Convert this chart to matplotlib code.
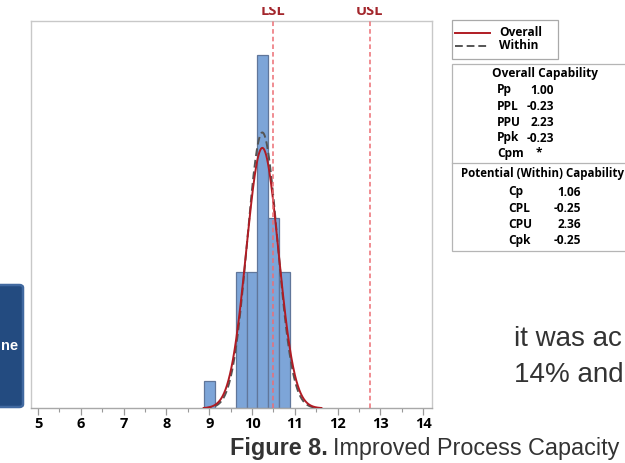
import matplotlib.pyplot as plt
import numpy as np
from matplotlib.lines import Line2D
from matplotlib.patches import Rectangle, FancyBboxPatch

W, H = 625, 463

# histogram data
bin_edges = [8.875, 9.125, 9.375, 9.625, 9.875, 10.125, 10.375, 10.625, 10.875]
counts = [1, 0, 0, 5, 5, 13, 7, 5]
n_obs = 36

# spec limits and fitted normals
lsl, usl = 10.5, 12.75
mean = 10.24
sigma_overall = 0.375
sigma_within = 0.354
curve_lo, curve_hi = 8.87, 11.62

xticks = [5, 6, 7, 8, 9, 10, 11, 12, 13, 14]

overall_labels = ['Pp', 'PPL', 'PPU', 'Ppk', 'Cpm']
overall_values = ['1.00', '-0.23', '2.23', '-0.23', '*']
within_labels = ['Cp', 'CPL', 'CPU', 'Cpk']
within_values = ['1.06', '-0.25', '2.36', '-0.25']

BLUE = '#7da5d8'
EDGE = '#60769a'
RED = '#b01c24'
SPEC = '#ec6d74'
GRAY = '#555555'
STAT_FONT = 'Open Sans'
FS = 8.6


def px(x, y):
    # pixel coords (from top left) -> figure fraction
    return x / W, 1 - y / H


fig = plt.figure(figsize=(W / 100, H / 100), dpi=100)
ax = fig.add_axes([31 / W, (H - 408.3) / H, 401 / W, 387.6 / H])

widths = np.diff(bin_edges)
ax.bar(bin_edges[:-1], counts, width=widths, align='edge',
       color=BLUE, edgecolor=EDGE, linewidth=0.9, zorder=2)

xs = np.linspace(curve_lo, curve_hi, 400)
bw = widths[0]
for s, style, col in [(sigma_within, (0, (4, 2)), GRAY), (sigma_overall, '-', RED)]:
    pdf = np.exp(-0.5 * ((xs - mean) / s) ** 2) / (s * np.sqrt(2 * np.pi))
    ax.plot(xs, n_obs * bw * pdf, color=col, linestyle=style, lw=1.4, zorder=3)

for lim in (lsl, usl):
    ax.axvline(lim, color=SPEC, lw=1.1, linestyle=(0, (3, 2)), zorder=4)

ax.set_xlim(4.8365, 14.203)
ax.set_ylim(0, 14.25)
ax.set_yticks([])
ax.set_xticks(xticks)
ax.set_xticks(np.arange(5.5, 14.5, 1.0), minor=True)
ax.tick_params(axis='x', which='major', length=5, width=0.9, color='#999999', pad=1.5)
ax.tick_params(axis='x', which='minor', length=3, width=0.8, color='#999999')
for lab in ax.get_xticklabels():
    lab.set_fontfamily(STAT_FONT)
    lab.set_fontweight('bold')
    lab.set_fontsize(10.5)
for side in ('top', 'right', 'left'):
    ax.spines[side].set_color('#c8c8c8')
    ax.spines[side].set_linewidth(1.0)
ax.spines['bottom'].set_color('#a8a8a8')
ax.spines['bottom'].set_linewidth(1.0)

# LSL / USL labels, top clipped by the screenshot edge
for lim, name in ((lsl, 'LSL'), (usl, 'USL')):
    xf = ax.transData.transform((lim, 0))[0] / W
    fig.text(xf, 1 - 15 / H, name, ha='center', va='baseline',
             color='#a3262c', fontsize=10.5, fontweight='bold',
             fontfamily=STAT_FONT)
fig.patches.append(Rectangle(px(0, 7), 1, 7 / H, transform=fig.transFigure,
                             facecolor='white', edgecolor='none', zorder=10))

# legend box
x0, y0 = px(452.3, 59)
fig.patches.append(Rectangle((x0, y0), 106 / W, 38.7 / H, transform=fig.transFigure,
                             facecolor='white', edgecolor='#a9a9a9', lw=0.9))
fig.lines.append(Line2D([455 / W, 490 / W], [1 - 32.5 / H] * 2,
                        transform=fig.transFigure, color=RED, lw=1.4))
fig.lines.append(Line2D([455 / W, 490 / W], [1 - 45.5 / H] * 2,
                        transform=fig.transFigure, color=GRAY, lw=1.4,
                        linestyle=(0, (4, 2))))
fig.text(*px(499, 32.5), 'Overall', fontsize=FS, fontweight='bold',
         fontfamily=STAT_FONT, va='center')
fig.text(*px(499, 45.5), 'Within', fontsize=FS, fontweight='bold',
         fontfamily=STAT_FONT, va='center')

# capability table
x0, y0 = px(452.3, 251)
fig.patches.append(Rectangle((x0, y0), 200 / W, 187 / H, transform=fig.transFigure,
                             facecolor='white', edgecolor='#b5b5b5', lw=0.9))
fig.lines.append(Line2D([452.3 / W, 1.0], [1 - 163.3 / H] * 2,
                        transform=fig.transFigure, color='#b5b5b5', lw=0.9))
fig.text(*px(545.5, 74), 'Overall Capability', fontsize=FS, fontweight='bold',
         fontfamily=STAT_FONT, ha='center', va='center')
for i, (lab, val) in enumerate(zip(overall_labels, overall_values)):
    y = 90 + i * 16
    fig.text(*px(497, y), lab, fontsize=FS, fontweight='bold',
             fontfamily=STAT_FONT, va='center')
    if val == '*':
        fig.text(*px(539, y - 1), val, fontsize=FS, fontweight='bold',
                 fontfamily=STAT_FONT, ha='center', va='center')
    else:
        fig.text(*px(554, y), val, fontsize=FS, fontweight='bold',
                 fontfamily=STAT_FONT, ha='right', va='center')
fig.text(*px(461, 174), 'Potential (Within) Capability', fontsize=8.3,
         fontweight='bold', fontfamily=STAT_FONT, va='center')
for i, (lab, val) in enumerate(zip(within_labels, within_values)):
    y = 192 + i * 16.2
    fig.text(*px(508, y), lab, fontsize=FS, fontweight='bold',
             fontfamily=STAT_FONT, va='center')
    fig.text(*px(581, y), val, fontsize=FS, fontweight='bold',
             fontfamily=STAT_FONT, ha='right', va='center')

# surrounding page bits
bx, by = px(-10, 407)
fig.patches.append(FancyBboxPatch((bx, by), 33 / W, 122 / H,
                                  boxstyle='round,pad=0,rounding_size=0.006',
                                  transform=fig.transFigure, facecolor='#234b80',
                                  edgecolor='#4169a0', lw=1.8))
fig.text(*px(0.5, 346), 'ne', color='white', fontsize=10.5, fontweight='bold',
         fontfamily='Liberation Sans', ha='left', va='center')

fig.text(*px(514, 346), 'it was ac', fontsize=20, color='#333333',
         fontfamily='Liberation Sans', va='baseline')
fig.text(*px(514, 382), '14% and', fontsize=20, color='#333333',
         fontfamily='Liberation Sans', va='baseline')

cap = fig.text(*px(230, 455), 'Figure 8.', fontsize=16.8, fontweight='bold',
               color='#333333', fontfamily='Liberation Sans', va='baseline')
fig.canvas.draw()
bb = cap.get_window_extent()
fig.text(bb.x1 / W + 5 / W, 1 - 455 / H, 'Improved Process Capacity', fontsize=16.8,
         color='#333333', fontfamily='Liberation Sans', va='baseline')

fig.savefig('out.png', dpi=100)
